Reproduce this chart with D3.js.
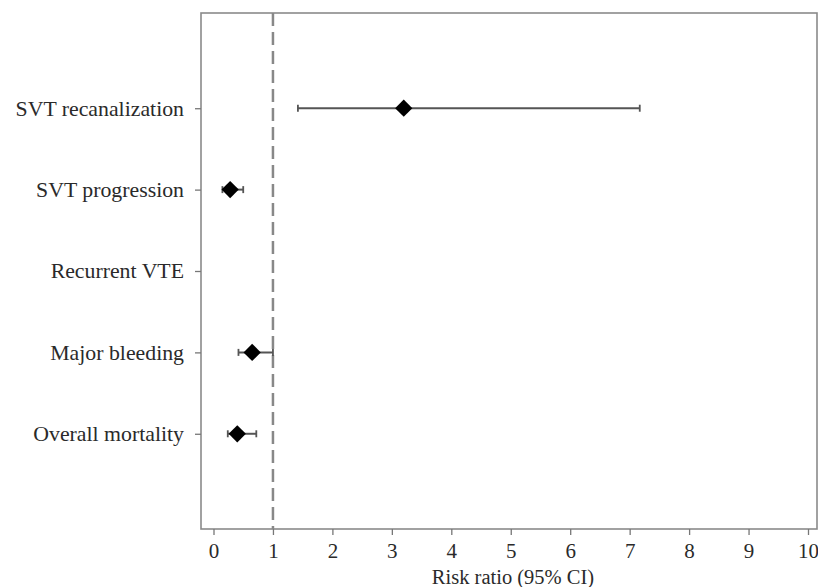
<!DOCTYPE html>
<html>
<head>
<meta charset="utf-8">
<script src="https://cdn.jsdelivr.net/npm/d3@7"></script>
<style>
  body { margin: 0; background: #fff; }
  text { font-family: "Liberation Serif", "Times New Roman", serif; }
</style>
</head>
<body>
<div id="vis"></div>
<script>
// data
const OUTCOMES = ["SVT recanalization", "SVT progression", "Recurrent VTE", "Major bleeding", "Overall mortality"];
const RR = [3.2, 0.28, null, 0.65, 0.4];
const CI_LOW = [1.42, 0.15, null, 0.42, 0.24];
const CI_HIGH = [7.17, 0.5, null, 1.0, 0.72];
const X_TICKS = [0, 1, 2, 3, 4, 5, 6, 7, 8, 9, 10];

// frame
const FRAME_WIDTH = 818;
const FRAME_HEIGHT = 587;
const PLOT = {left: 201, right: 817, top: 13, bottom: 529};

const svg = d3.select("#vis")
  .append("svg")
    .attr("width", FRAME_WIDTH)
    .attr("height", FRAME_HEIGHT);

// scales
const X = d3.scaleLinear()
  .domain([0, 10])
  .range([213.5, 808]);

const Y = d3.scalePoint()
  .domain(OUTCOMES)
  .range([PLOT.top, PLOT.bottom])
  .padding(1.17);

const rows = OUTCOMES.map((d, i) => ({name: d, rr: RR[i], lo: CI_LOW[i], hi: CI_HIGH[i]}));

// box
svg.append("rect")
  .attr("x", PLOT.left)
  .attr("y", PLOT.top)
  .attr("width", PLOT.right - PLOT.left)
  .attr("height", PLOT.bottom - PLOT.top)
  .attr("fill", "none")
  .attr("stroke", "#8a8a8a")
  .attr("stroke-width", 1.6);

// x axis
const xAxis = svg.append("g")
  .attr("transform", "translate(0," + PLOT.bottom + ")")
  .call(d3.axisBottom(X).tickValues(X_TICKS).tickSize(6).tickPadding(8).tickFormat(d3.format("d")));
xAxis.select(".domain").remove();
xAxis.selectAll("line").attr("stroke", "#777").attr("stroke-width", 1.3);
xAxis.selectAll("text").attr("font-size", "21px").attr("fill", "#2a2a2a");

// y axis
const yAxis = svg.append("g")
  .attr("transform", "translate(" + PLOT.left + ",0)")
  .call(d3.axisLeft(Y).tickSize(6).tickPadding(11));
yAxis.select(".domain").remove();
yAxis.selectAll("line").attr("stroke", "#777").attr("stroke-width", 1.3);
yAxis.selectAll("text").attr("font-size", "21.8px").attr("fill", "#2a2a2a");

// x title
svg.append("text")
  .attr("x", 513)
  .attr("y", 584)
  .attr("text-anchor", "middle")
  .attr("font-size", "20.5px")
  .attr("fill", "#2a2a2a")
  .text("Risk ratio (95% CI)");

// reference line at 1
svg.append("line")
  .attr("x1", X(1)).attr("x2", X(1))
  .attr("y1", PLOT.top).attr("y2", PLOT.bottom)
  .attr("stroke", "#888")
  .attr("stroke-width", 2.5)
  .attr("stroke-dasharray", "13,6");

const valid = rows.filter((d) => d.rr !== null);

// CI lines
svg.selectAll(".ci")
  .data(valid)
  .enter()
  .append("line")
    .attr("class", "ci")
    .attr("x1", (d) => X(d.lo))
    .attr("x2", (d) => X(d.hi))
    .attr("y1", (d) => Y(d.name))
    .attr("y2", (d) => Y(d.name))
    .attr("stroke", "#555")
    .attr("stroke-width", 2);

// caps
["lo", "hi"].forEach((k) => {
  svg.selectAll(".cap-" + k)
    .data(valid)
    .enter()
    .append("line")
      .attr("x1", (d) => X(d[k]))
      .attr("x2", (d) => X(d[k]))
      .attr("y1", (d) => Y(d.name) - 3.5)
      .attr("y2", (d) => Y(d.name) + 3.5)
      .attr("stroke", "#555")
      .attr("stroke-width", 1.8);
});

// diamonds
svg.selectAll(".pt")
  .data(valid)
  .enter()
  .append("path")
    .attr("class", "pt")
    .attr("d", d3.symbol().type(d3.symbolDiamond2).size(190))
    .attr("transform", (d) => "translate(" + X(d.rr) + "," + Y(d.name) + ")")
    .attr("fill", "#000");
</script>
</body>
</html>
